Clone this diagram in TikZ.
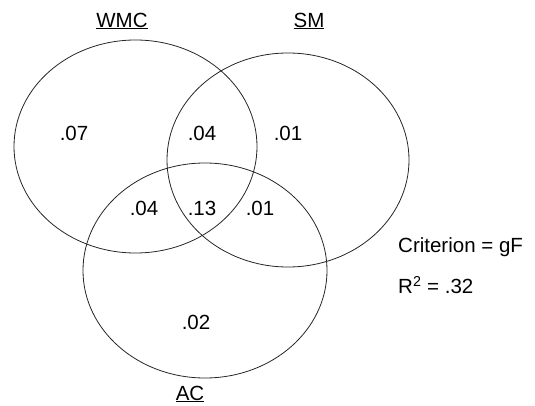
\documentclass[tikz,border=0pt]{standalone}
\usepackage{fontspec}
\setmainfont{Liberation Sans}
\begin{document}
\begin{tikzpicture}[x=1pt,y=-1pt,
  ring/.style={draw=black!85,line width=0.8pt},
  lbl/.style={font=\fontsize{20.5}{24}\selectfont,inner sep=0pt},
  num/.style={font=\fontsize{20.5}{24}\selectfont,inner sep=0pt}]
\useasboundingbox (0,0) rectangle (535,406);
\draw[ring] (135.5,146.5) ellipse [x radius=121.5, y radius=106.5];
\draw[ring] (288,160) ellipse [x radius=121, y radius=107];
\draw[ring] (205,270.5) ellipse [x radius=122, y radius=107.5];
\node[lbl] (wmc) at (122,21) {\underline{WMC}};
\node[lbl] (sm) at (309,21) {\underline{SM}};
\node[lbl] (ac) at (190,394) {\underline{AC}};
\node[num] (n1) at (74,133) {.07};
\node[num] (n2) at (202,133) {.04};
\node[num] (n3) at (288,133) {.01};
\node[num] (n4) at (144,208) {.04};
\node[num] (n5) at (202,208) {.13};
\node[num] (n6) at (260,208) {.01};
\node[num] (n7) at (196,322) {.02};
\node[lbl,anchor=west] (crit) at (398,247) {Criterion = gF};
\node[lbl,anchor=west] (r2) at (398,285) {R\textsuperscript{2} = .32};
\end{tikzpicture}
\end{document}
